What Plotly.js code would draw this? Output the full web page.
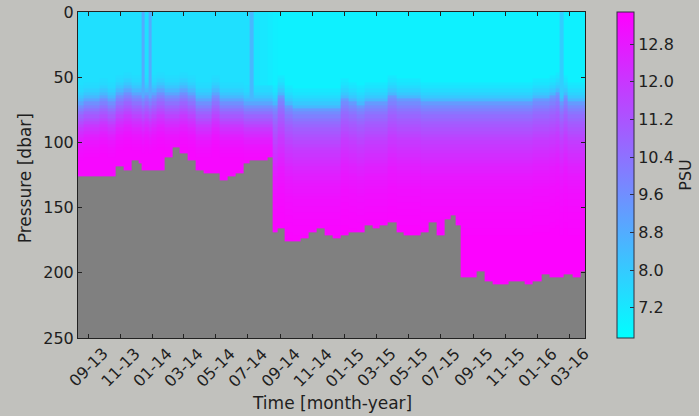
<!DOCTYPE html>
<html>
<head>
<meta charset="utf-8">
<script src="https://cdn.plot.ly/plotly-3.0.1.min.js"></script>
<style>html,body{margin:0;padding:0;background:#c1c1bd;}</style>
</head>
<body>
<div id="chart" style="width:699px;height:416px;"></div>
<script>
// Sampling times of the profiles
const times = [
'2013-08-15','2013-09-01','2013-09-15','2013-10-01','2013-10-15','2013-11-01','2013-11-15','2013-12-01','2013-12-09','2013-12-15','2013-12-21','2013-12-27',
'2014-01-03','2014-01-15','2014-02-01','2014-02-15','2014-03-01','2014-03-15','2014-04-01','2014-04-15','2014-05-01','2014-05-15','2014-06-01','2014-06-15','2014-07-01','2014-07-08','2014-07-15','2014-08-01','2014-08-12','2014-08-20','2014-09-01','2014-09-15','2014-10-01','2014-10-15','2014-11-01','2014-11-15','2014-12-01','2014-12-15',
'2015-01-01','2015-01-15','2015-02-01','2015-02-15','2015-03-01','2015-03-15','2015-04-01','2015-04-15','2015-05-01','2015-05-15','2015-06-01','2015-06-15','2015-07-01','2015-07-15','2015-07-25','2015-08-04','2015-08-12','2015-09-01','2015-09-15','2015-10-01','2015-10-15','2015-11-01','2015-11-15','2015-12-01','2015-12-15',
'2016-01-01','2016-01-15','2016-02-01','2016-02-09','2016-02-16','2016-02-23','2016-03-01','2016-03-15','2016-03-29'];

// Deepest measured pressure (dbar) of each profile
const bottomDepth = [
127,127,127,127,126,118,122,115,116,121,121,121,
121,121,112,104,108,113,121,125,125,128,126,123,116,115,115,113,111,168,167,177,177,173,170,167,171,174,
172,170,168,164,166,164,162,168,172,172,170,161,172,158,157,165,203,203,198,206,209,208,206,207,208,
207,202,204,204,203,202,201,203,199];

// Top of the halocline (dbar) of each profile
const haloclineTop = [
72,70,70,68,70,66,62,64,66,68,66,68,
64,62,64,66,62,66,69,69,66,70,71,71,72,72,72,72,72,72,66,72,74,74,74,74,74,74,
68,70,72,71,71,71,64,67,67,67,70,71,71,71,71,71,70,69,69,69,69,69,69,69,69,
68,68,64,63,69,66,69,69,69];

// Salinity (PSU) of the upper mixed layer of each profile
const upperSal = [
7.4,7.4,7.4,7.4,7.4,7.4,7.4,7.4,7.4,8.8,7.4,8.8,
7.4,7.4,7.4,7.4,7.4,7.4,7.4,7.4,7.4,7.4,7.4,7.4,7.4,8.5,7.3,7.2,7.1,7.0,6.95,6.95,6.95,6.95,6.95,6.95,6.95,6.95,
6.95,6.95,6.95,6.95,6.95,6.95,6.95,6.95,6.95,6.95,6.95,6.95,6.95,6.95,6.95,6.95,6.95,6.95,6.95,6.95,6.95,6.95,6.95,6.95,6.95,
6.95,6.95,6.95,6.95,7.9,6.95,6.95,6.95,6.95];

// Salinity just above the halocline top (15 dbar to 2.5 dbar above), per regime
const earlyFade = [7.5,7.6,7.8,8.1,8.5,9.0];
const lateFade = [7.15,7.3,7.5,7.75,8.05,8.5];
// Salinity below the halocline top, every 2.5 dbar (2013-2014 and 2014-2016 regimes)
const earlyProfile = [9.6,10.0,10.4,10.8,11.1,11.4,11.7,12.0,12.2,12.4,12.6,12.75,12.9,13.0,13.1,13.15,13.2,13.25];
const lateProfile = [9.3,9.7,10.0,10.3,10.55,10.75,10.95,11.1,11.25,11.4,11.55,11.7,11.85,11.95,12.05,12.15,12.25,12.35,12.45,12.55,12.65,12.7,12.8,12.85,12.9,12.95,13.0,13.05,13.1,13.1,13.15,13.15,13.2,13.2,13.25,13.25,13.3,13.3,13.3,13.35,13.35,13.4];
const regimeChange = '2014-08-16';

// Axis labels
const tickDates = ['2013-09-01','2013-11-01','2014-01-01','2014-03-01','2014-05-01','2014-07-01','2014-09-01','2014-11-01','2015-01-01','2015-03-01','2015-05-01','2015-07-01','2015-09-01','2015-11-01','2016-01-01','2016-03-01'];
const tickLabels = ['09-13','11-13','01-14','03-14','05-14','07-14','09-14','11-14','01-15','03-15','05-15','07-15','09-15','11-15','01-16','03-16'];
const pressureTicks = [0,50,100,150,200,250];
const psuTicks = [7.2,8.0,8.8,9.6,10.4,11.2,12.0,12.8];

// Build the pressure grid and salinity table
const dp = 2.5;
const pressures = [];
for (let p = 0; p <= 250; p += dp) pressures.push(p);
const z = pressures.map(p => times.map((t, j) => {
  if (p >= bottomDepth[j]) return null;
  const early = t < regimeChange;
  const k = Math.round((p - haloclineTop[j]) / dp);
  if (k < 0) {
    const fade = early ? earlyFade : lateFade;
    const fi = fade.length + k;
    if (fi < 0) return upperSal[j];
    return Math.max(upperSal[j], fade[fi]);
  }
  const prof = early ? earlyProfile : lateProfile;
  return prof[Math.min(prof.length - 1, k)];
}));

const font = 'DejaVu Sans, sans-serif';
const txt = '#1e1e1e';

const trace = {
  type: 'heatmap',
  x: times, y: pressures, z: z,
  zmin: 6.56, zmax: 13.48,
  zsmooth: false,
  colorscale: [[0, 'rgb(0,255,255)'], [1, 'rgb(255,0,255)']],
  hoverongaps: false,
  colorbar: {
    x: 1.063, xanchor: 'left', xpad: 0,
    y: 0.5, yanchor: 'middle', ypad: 0,
    len: 1, lenmode: 'fraction',
    thickness: 17, thicknessmode: 'pixels',
    outlinewidth: 1, outlinecolor: '#303040',
    tickvals: psuTicks, ticktext: psuTicks.map(v => v.toFixed(1)),
    ticks: 'inside', ticklen: 4, tickcolor: '#303040',
    tickfont: {family: font, size: 16, color: txt},
    title: {text: 'PSU', side: 'right', font: {family: font, size: 16, color: txt}}
  }
};

const annotations = tickDates.map((d, i) => ({
  x: d, xref: 'x', y: -0.089, yref: 'paper',
  text: tickLabels[i], showarrow: false, textangle: -45,
  xanchor: 'center', yanchor: 'middle',
  font: {family: font, size: 16, color: txt}
}));
annotations.push({
  x: 0.5, xref: 'paper', y: -0.199, yref: 'paper',
  text: 'Time [month-year]', showarrow: false,
  xanchor: 'center', yanchor: 'middle',
  font: {family: font, size: 17, color: txt}
});
annotations.push({
  x: -0.1045, xref: 'paper', y: 0.49, yref: 'paper',
  text: 'Pressure [dbar]', showarrow: false, textangle: -90,
  xanchor: 'center', yanchor: 'middle',
  font: {family: font, size: 17, color: txt}
});

const layout = {
  width: 699, height: 416,
  margin: {l: 78, r: 114, t: 12, b: 78, autoexpand: false},
  paper_bgcolor: '#c1c1bd',
  plot_bgcolor: '#808080',
  showlegend: false,
  xaxis: {
    type: 'date', range: ['2013-08-13', '2016-03-31'],
    tickvals: tickDates, showticklabels: false,
    ticks: 'inside', ticklen: 4, tickcolor: '#222',
    showgrid: false, zeroline: false, automargin: false,
    showline: true, linecolor: '#222', linewidth: 1, mirror: 'allticks'
  },
  yaxis: {
    range: [250, 0], tickvals: pressureTicks,
    ticks: 'inside', ticklen: 4, tickcolor: '#222',
    tickfont: {family: font, size: 16, color: txt},
    showgrid: false, zeroline: false, automargin: false,
    showline: true, linecolor: '#222', linewidth: 1, mirror: 'allticks'
  },
  annotations: annotations
};

Plotly.newPlot('chart', [trace], layout, {displayModeBar: false, staticPlot: true});
</script>
</body>
</html>
